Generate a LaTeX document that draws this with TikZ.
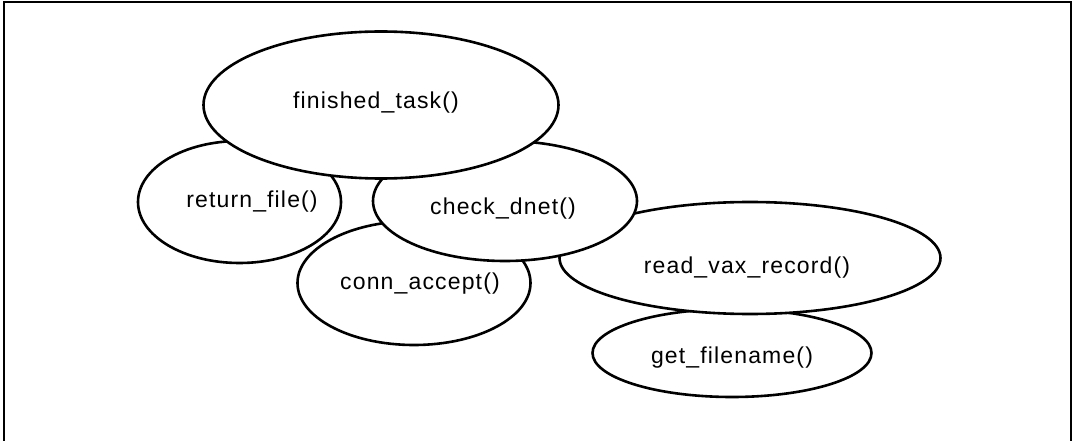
\documentclass[tikz,border=0pt]{standalone}
\usepackage{fontspec}
\setmainfont{Liberation Sans}
\newfontfamily\labfont[LetterSpace=5]{Liberation Sans}
\usetikzlibrary{shapes.geometric}
\tikzset{
  blob/.style={ellipse, draw, fill=white, line width=2.6pt, inner sep=0pt},
  lab/.style={font=\labfont\fontsize{23}{27}\selectfont, inner sep=0pt},
}
\begin{document}
\begin{tikzpicture}[x=1pt,y=-1pt]
\useasboundingbox (0,0) rectangle (1072,441);
\coordinate (bl) at (4,441);
\coordinate (tl) at (4,2);
\coordinate (tr) at (1070.5,2);
\coordinate (br) at (1070.5,441);
\draw[line width=2pt] (bl) -- (tl) -- (tr) -- (br);

\node[blob, minimum width=279pt, minimum height=88pt] (gfn) at (732,353) {};
\node[lab] (gfnt) at (732,358) {get\_filename()};

\node[blob, minimum width=381pt, minimum height=112pt] (rvr) at (750,258) {};
\node[lab] (rvrt) at (747,268) {read\_vax\_record()};

\node[blob, minimum width=233pt, minimum height=124pt] (conn) at (414,283) {};
\node[lab] (connt) at (420,284) {conn\_accept()};

\node[blob, minimum width=264pt, minimum height=120pt] (chk) at (505,201) {};
\node[lab] (chkt) at (503,209) {check\_dnet()};

\node[blob, minimum width=203pt, minimum height=122pt] (ret) at (239.5,202) {};
\node[lab] (rett) at (252,202) {return\_file()};

\node[blob, minimum width=355pt, minimum height=147pt] (fin) at (381,105) {};
\node[lab] (fint) at (376,103) {finished\_task()};
\end{tikzpicture}
\end{document}
